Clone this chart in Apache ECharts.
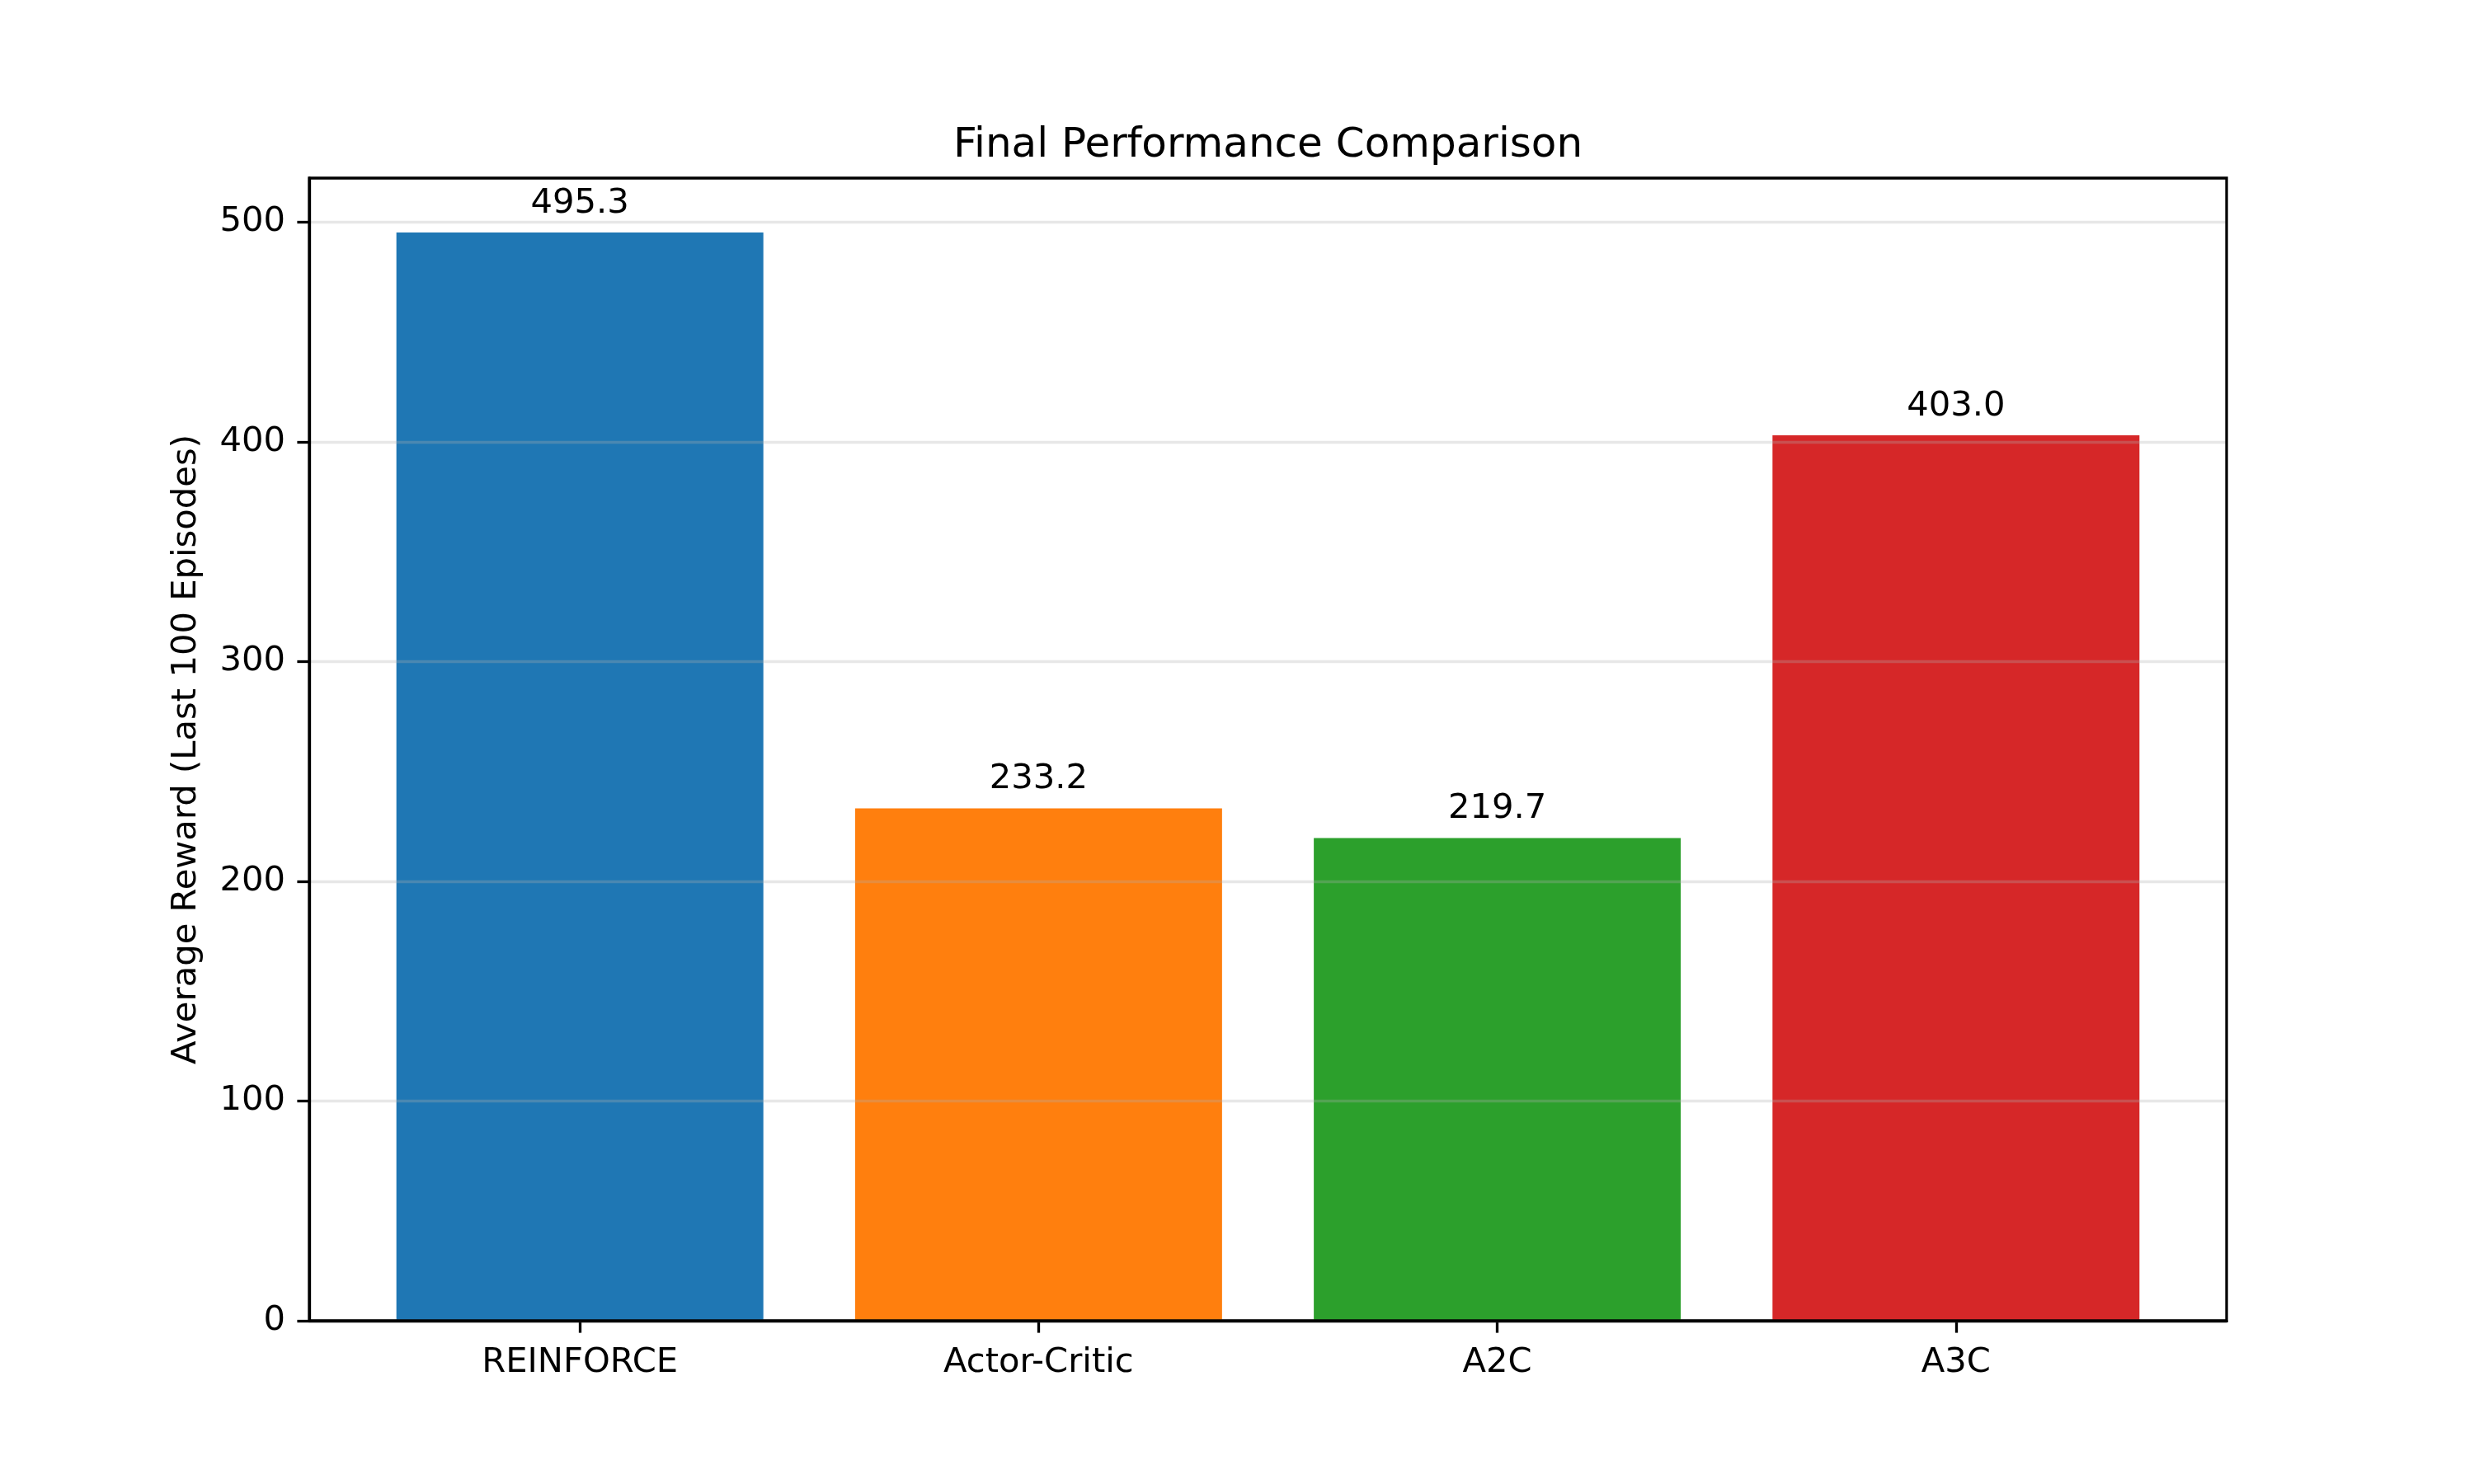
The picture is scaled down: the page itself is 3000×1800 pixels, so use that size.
<!DOCTYPE html>
<html>
<head>
<meta charset="utf-8">
<title>Final Performance Comparison</title>
<script src="https://cdn.jsdelivr.net/npm/echarts@6/dist/echarts.min.js"></script>
<style>
  html, body { margin: 0; padding: 0; background: #fff; }
  #chart { width: 3000px; height: 1800px; }
</style>
</head>
<body>
<div id="chart"></div>
<script>
// data
var methods = ['REINFORCE', 'Actor-Critic', 'A2C', 'A3C']
var rewards = [495.3, 233.2, 219.7, 403.0]
var barColors = ['#1f77b4', '#ff7f0e', '#2ca02c', '#d62728']
var yTicks = [0, 100, 200, 300, 400, 500]

var font = 'DejaVu Sans'
var gridLeft = 375
var gridRight = 300
var gridTop = 216
var gridBottom = 198
var plotWidth = 3000 - gridLeft - gridRight
// matplotlib style limits: bars 0.8 wide, 5% margins
var xMin = -0.4 - 0.05 * (methods.length - 0.2)
var xMax = methods.length - 0.6 + 0.05 * (methods.length - 0.2)
var yMax = Math.max.apply(null, rewards) * 1.05
var barPx = 0.8 / (xMax - xMin) * plotWidth

var chart = echarts.init(document.getElementById('chart'))

var barData = []
for (var i = 0; i < rewards.length; i++) {
  barData.push({
    value: [i, rewards[i]],
    itemStyle: { color: barColors[i] }
  })
}

chart.setOption({
  animation: false,
  backgroundColor: '#ffffff',
  title: {
    text: 'Final Performance Comparison',
    left: gridLeft + plotWidth / 2 - 5,
    textAlign: 'center',
    top: 147,
    textStyle: {
      fontFamily: font,
      fontSize: 50,
      fontWeight: 'normal',
      color: '#000',
      lineHeight: 50
    }
  },
  grid: {
    left: gridLeft,
    right: gridRight,
    top: gridTop,
    bottom: gridBottom,
    show: true,
    borderColor: '#000',
    borderWidth: 3.3,
    backgroundColor: 'transparent',
    z: 10
  },
  xAxis: {
    type: 'value',
    min: xMin,
    max: xMax,
    splitLine: { show: false },
    axisLine: { show: true, onZero: false, lineStyle: { color: '#000', width: 3.3 } },
    axisTick: {
      show: true,
      length: 14.6,
      customValues: [0, 1, 2, 3],
      lineStyle: { color: '#000', width: 3.3 }
    },
    axisLabel: {
      customValues: [0, 1, 2, 3],
      margin: 30,
      fontFamily: font,
      fontSize: 41.7,
      color: '#000',
      formatter: function (v) {
        return methods[Math.round(v)]
      }
    }
  },
  yAxis: {
    type: 'value',
    min: 0,
    max: yMax,
    interval: 100,
    z: 5,
    name: 'Average Reward (Last 100 Episodes)',
    nameLocation: 'middle',
    nameGap: 128,
    nameTextStyle: {
      fontFamily: font,
      fontSize: 41.7,
      color: '#000'
    },
    axisLine: { show: true, onZero: false, lineStyle: { color: '#000', width: 3.3 } },
    axisTick: { show: true, length: 14.6, lineStyle: { color: '#000', width: 3.3 } },
    axisLabel: {
      margin: 29,
      fontFamily: font,
      fontSize: 41.7,
      color: '#000',
      showMaxLabel: false,
      formatter: function (v) {
        return yTicks.indexOf(v) >= 0 ? String(v) : ''
      }
    },
    splitLine: {
      show: true,
      lineStyle: { color: 'rgba(176,176,176,0.3)', width: 3.3 }
    }
  },
  series: [{
    type: 'bar',
    data: barData,
    barWidth: barPx,
    label: {
      show: true,
      position: 'top',
      distance: 14,
      fontFamily: font,
      fontSize: 41.7,
      color: '#000',
      formatter: function (p) {
        return p.value[1].toFixed(1)
      }
    }
  }]
})
</script>
</body>
</html>
